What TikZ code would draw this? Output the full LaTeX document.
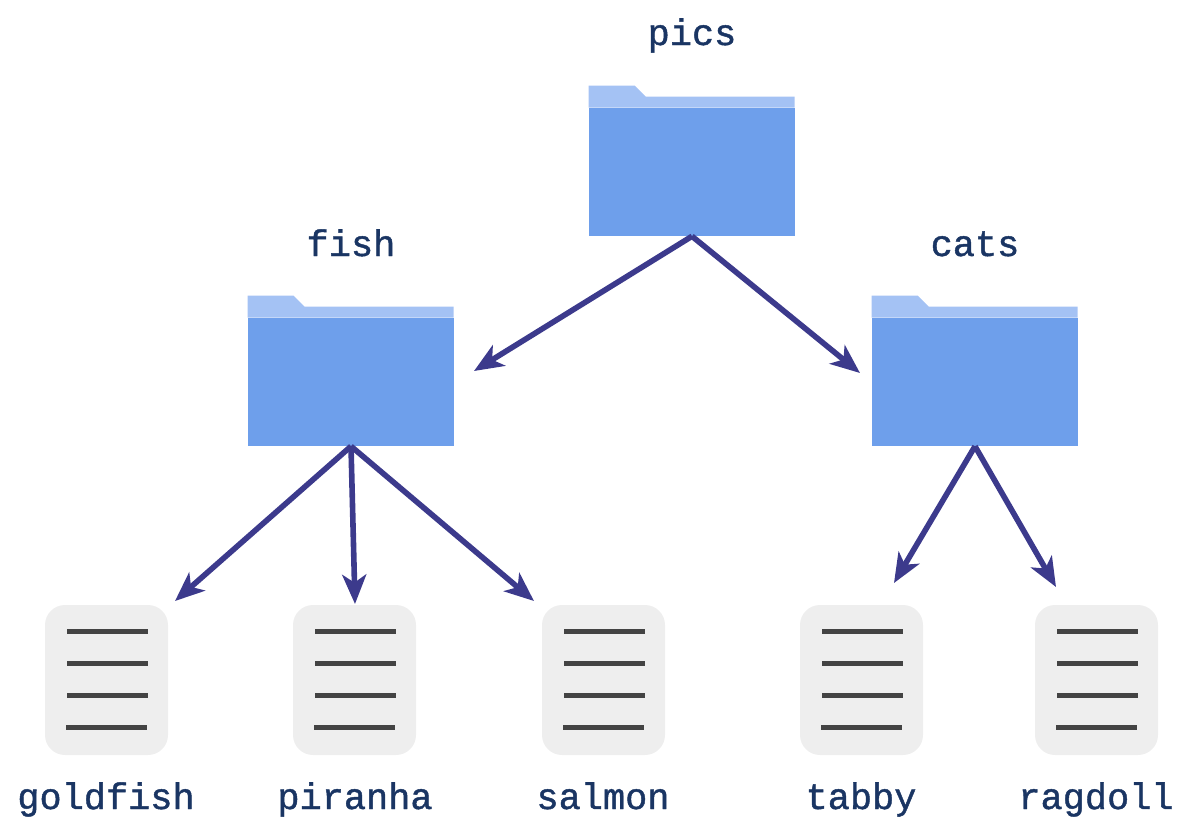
\documentclass[tikz,border=0pt]{standalone}
\usepackage{fontspec}
\newfontfamily\labelfont{Liberation Mono}[FakeBold=1.2]
\usetikzlibrary{arrows.meta}
\definecolor{labelblue}{HTML}{1A3563}
\definecolor{folderblue}{HTML}{6E9FEB}
\definecolor{tabblue}{HTML}{A4C2F4}
\definecolor{edgeblue}{HTML}{3C3A8C}
\definecolor{docgrey}{HTML}{EEEEEE}
\definecolor{rulegrey}{HTML}{434343}

\begin{document}
\begin{tikzpicture}[
		x=0.75pt,
		y=-0.75pt,
		>={Stealth[length=22pt,width=18pt,inset=6pt]},
		folder/.style={fill=folderblue,minimum width=154.5pt,minimum height=96pt,inner sep=0pt},
		foldertab/.style={fill=tabblue},
		doc/.style={fill=docgrey,rounded corners=15pt,minimum width=92.25pt,minimum height=112.5pt,inner sep=0pt},
		docrule/.style={rulegrey,line width=3.75pt},
		itemlabel/.style={anchor=base,text=labelblue,font=\labelfont\fontsize{27.7pt}{30pt}\selectfont},
		treeedge/.style={edgeblue,line width=4.2pt,->}
	]

		\useasboundingbox (0,0) rectangle (1190,832);

		% Folders
		\node[folder] (pics) at (692,172) {};
		\node[folder] (fish) at (351,382) {};
		\node[folder] (cats) at (975,382) {};
		\foreach \f in {pics,fish,cats} {
			\fill[foldertab] (\f.north west) ++(0,-22) -- ++(46,0) -- ++(11,11) -- ++(149,0) -- ++(0,11) -- ++(-206,0) -- cycle;
		}

		% Documents
		\node[doc] (goldfish) at (106.5,680) {};
		\node[doc] (piranha) at (354.5,680) {};
		\node[doc] (salmon) at (603.5,680) {};
		\node[doc] (tabby) at (861.5,680) {};
		\node[doc] (ragdoll) at (1096.5,680) {};
		\foreach \d in {goldfish,piranha,salmon,tabby,ragdoll} {
			\draw[docrule] (\d.north west) ++(22.5,26.5) -- ++(80.5,0);
			\draw[docrule] (\d.north west) ++(22.5,58.5) -- ++(80.5,0);
			\draw[docrule] (\d.north west) ++(22.5,90.5) -- ++(80.5,0);
			\draw[docrule] (\d.north west) ++(21.5,122.5) -- ++(80.5,0);
		}

		% Labels
		\node[itemlabel] (picslabel) at (692,45) {pics};
		\node[itemlabel] (fishlabel) at (351,256) {fish};
		\node[itemlabel] (catslabel) at (975,256) {cats};
		\node[itemlabel] (goldfishlabel) at (106,809) {goldfish};
		\node[itemlabel] (piranhalabel) at (355,809) {piranha};
		\node[itemlabel] (salmonlabel) at (603,809) {salmon};
		\node[itemlabel] (tabbylabel) at (861,809) {tabby};
		\node[itemlabel] (ragdolllabel) at (1096,809) {ragdoll};

		% Arrow ends
		\coordinate (fishin) at (474,371);
		\coordinate (catsin) at (860,373);
		\coordinate (goldfishin) at (175,601);
		\coordinate (piranhain) at (355,604);
		\coordinate (salmonin) at (534,601);
		\coordinate (tabbyin) at (894,583);
		\coordinate (ragdollin) at (1056,587);

		% Arrows
		\draw[treeedge] (pics.south) -- (fishin);
		\draw[treeedge] (pics.south) -- (catsin);
		\draw[treeedge] (fish.south) -- (goldfishin);
		\draw[treeedge] (fish.south) -- (piranhain);
		\draw[treeedge] (fish.south) -- (salmonin);
		\draw[treeedge] (cats.south) -- (tabbyin);
		\draw[treeedge] (cats.south) -- (ragdollin);
	\end{tikzpicture}
\end{document}
